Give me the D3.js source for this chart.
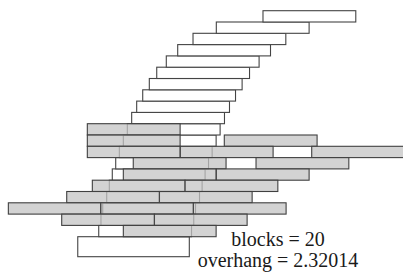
<!DOCTYPE html>
<html>
<head>
<meta charset="utf-8">
<script src="https://cdn.jsdelivr.net/npm/d3@7"></script>
<style>
  html, body { margin: 0; padding: 0; background: #fff; }
  svg { display: block; }
</style>
</head>
<body>
<svg id="chart" width="403" height="276"></svg>
<script>
// Block stack: 20 unit-length blocks, listed from the bottom level (1) to the top level (20).
// Values are left-edge positions in block lengths, relative to the table edge.
const blockLevels = d3.range(1, 21);
const blockLefts = [-0.449, -0.425, -0.406, -0.363, -0.335, -0.303, -0.266, -0.227, -0.184, -0.141,
                    -0.094, -0.040, 0.025, 0.096, 0.176, 0.279, 0.402, 0.567, 0.818, 1.321];

// Shaded load blocks: level and left edge.
const loadLevels = [10, 9, 9, 8, 8, 8, 7, 7, 6, 6, 5, 5, 4, 4, 3, 3, 3, 2, 2, 1];
const loadLefts  = [-0.572, -0.572, 0.904, -0.572, 0.430, 1.846, -0.077, 1.246, -0.184, 0.818,
                    -0.518, 0.481, -0.794, 0.204, -1.423, -0.428, 0.570, -0.848, 0.150, -0.184];

// Base block under the stack: [left, right] in block lengths, depth in levels.
const baseExtent = [-0.675, 0.527];
const baseDepth = 1.77;

const blockLength = 1;
const labels = ["blocks = 20", "overhang = 2.32014"];

const svg = d3.select("#chart");
const x = d3.scaleLinear().domain([0, 1]).range([140.4, 233.2]);
const y = d3.scaleLinear().domain([0, 20]).range([236.7, 10.7]);

// base
svg.append("rect")
  .attr("x", x(baseExtent[0]))
  .attr("y", y(0))
  .attr("width", x(baseExtent[1]) - x(baseExtent[0]))
  .attr("height", y(-baseDepth) - y(0))
  .attr("fill", "#fff")
  .attr("stroke", "#444")
  .attr("stroke-width", 1.1);

const blocks = blockLevels.map((lv, i) => ({ level: lv, left: blockLefts[i] }));
svg.append("g").selectAll("rect").data(blocks).join("rect")
  .attr("x", d => x(d.left))
  .attr("y", d => y(d.level))
  .attr("width", d => x(d.left + blockLength) - x(d.left))
  .attr("height", d => y(d.level - 1) - y(d.level))
  .attr("fill", "#fff")
  .attr("stroke", "#444")
  .attr("stroke-width", 1.1);

const loads = loadLevels.map((lv, i) => ({ level: lv, left: loadLefts[i] }));
svg.append("g").selectAll("rect").data(loads).join("rect")
  .attr("x", d => x(d.left))
  .attr("y", d => y(d.level))
  .attr("width", d => x(d.left + blockLength) - x(d.left))
  .attr("height", d => y(d.level - 1) - y(d.level))
  .attr("fill", "#c4c4c4")
  .attr("fill-opacity", 0.75)
  .attr("stroke", "#404040")
  .attr("stroke-width", 1.1);

svg.append("g").selectAll("text").data(labels).join("text")
  .attr("x", 278)
  .attr("y", (d, i) => 245.5 + i * 21.5)
  .attr("text-anchor", "middle")
  .attr("font-family", "'Liberation Serif', 'Times New Roman', serif")
  .attr("font-size", 20)
  .attr("fill", "#1a1a1a")
  .text(d => d);
</script>
</body>
</html>
